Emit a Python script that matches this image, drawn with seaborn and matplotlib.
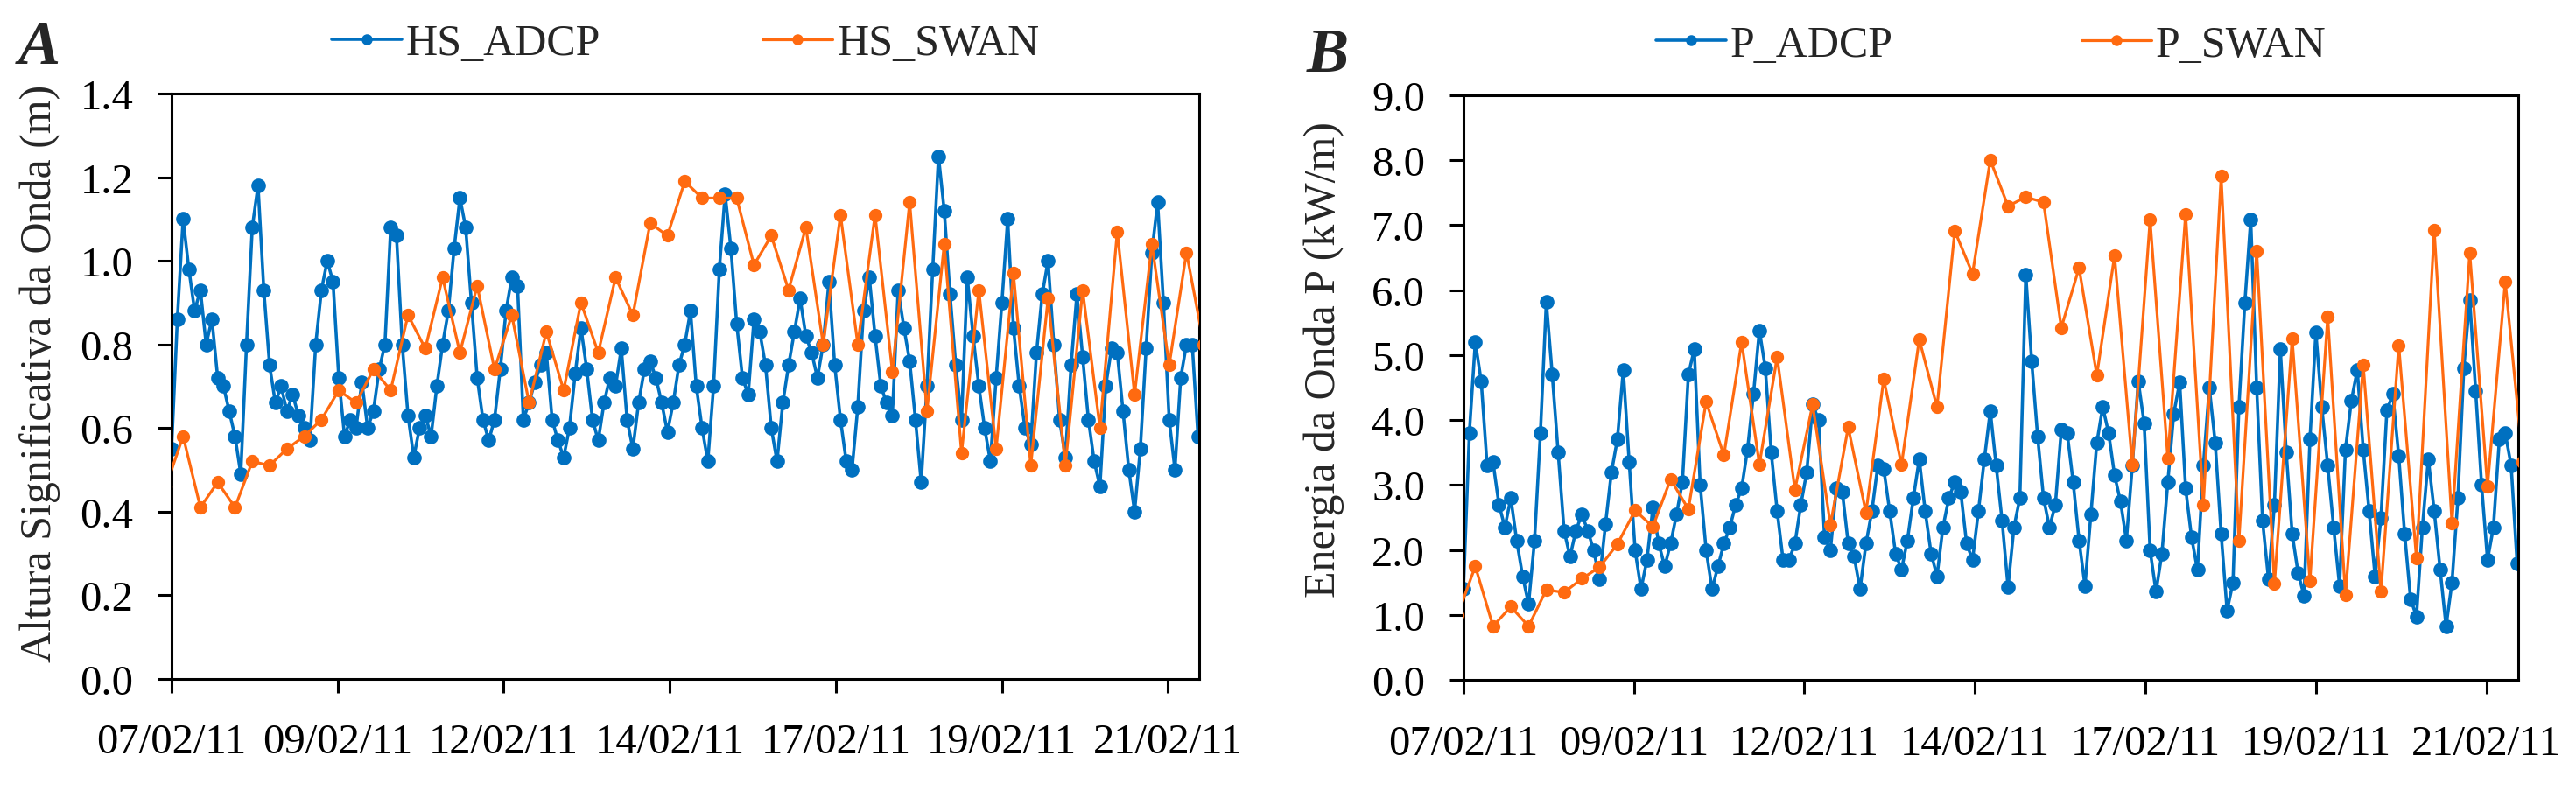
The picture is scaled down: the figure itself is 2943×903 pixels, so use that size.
import numpy as np
import pandas as pd
import matplotlib
matplotlib.use('Agg')  # no display
import matplotlib.pyplot as plt
import seaborn as sns

# --- data -----------------------------------------------------------------
# ADCP records, one value every 2 h from the start of the axis
hs_adcp = [
    0.55, 0.86, 1.10, 0.98, 0.88, 0.93, 0.80, 0.86, 0.72, 0.70,
    0.64, 0.58, 0.49, 0.80, 1.08, 1.18, 0.93, 0.75, 0.66, 0.70,
    0.64, 0.68, 0.63, 0.60, 0.57, 0.80, 0.93, 1.00, 0.95, 0.72,
    0.58, 0.62, 0.60, 0.71, 0.60, 0.64, 0.74, 0.80, 1.08, 1.06,
    0.80, 0.63, 0.53, 0.60, 0.63, 0.58, 0.70, 0.80, 0.88, 1.03,
    1.15, 1.08, 0.90, 0.72, 0.62, 0.57, 0.62, 0.74, 0.88, 0.96,
    0.94, 0.62, 0.66, 0.71, 0.75, 0.78, 0.62, 0.57, 0.53, 0.60,
    0.73, 0.84, 0.74, 0.62, 0.57, 0.66, 0.72, 0.70, 0.79, 0.62,
    0.55, 0.66, 0.74, 0.76, 0.72, 0.66, 0.59, 0.66, 0.75, 0.80,
    0.88, 0.70, 0.60, 0.52, 0.70, 0.98, 1.16, 1.03, 0.85, 0.72,
    0.68, 0.86, 0.83, 0.75, 0.60, 0.52, 0.66, 0.75, 0.83, 0.91,
    0.82, 0.78, 0.72, 0.80, 0.95, 0.75, 0.62, 0.52, 0.50, 0.65,
    0.88, 0.96, 0.82, 0.70, 0.66, 0.63, 0.93, 0.84, 0.76, 0.62,
    0.47, 0.70, 0.98, 1.25, 1.12, 0.92, 0.75, 0.62, 0.96, 0.82,
    0.70, 0.60, 0.52, 0.72, 0.90, 1.10, 0.84, 0.70, 0.60, 0.56,
    0.78, 0.92, 1.00, 0.80, 0.62, 0.53, 0.75, 0.92, 0.77, 0.62,
    0.52, 0.46, 0.70, 0.79, 0.78, 0.64, 0.50, 0.40, 0.55, 0.79,
    1.02, 1.14, 0.90, 0.62, 0.50, 0.72, 0.80, 0.80, 0.58,
]
p_adcp = [
    1.40, 3.80, 5.20, 4.60, 3.30, 3.35, 2.70, 2.35, 2.80, 2.14,
    1.60, 1.17, 2.14, 3.80, 5.82, 4.70, 3.50, 2.30, 1.90, 2.30,
    2.55, 2.30, 2.00, 1.55, 2.40, 3.20, 3.70, 4.77, 3.35, 2.00,
    1.40, 1.85, 2.65, 2.10, 1.75, 2.10, 2.55, 3.05, 4.70, 5.09,
    3.00, 2.00, 1.40, 1.75, 2.10, 2.35, 2.70, 2.95, 3.55, 4.40,
    5.38, 4.80, 3.50, 2.60, 1.85, 1.85, 2.10, 2.70, 3.20, 4.24,
    4.00, 2.20, 2.00, 2.95, 2.90, 2.10, 1.90, 1.40, 2.10, 2.60,
    3.30, 3.25, 2.60, 1.95, 1.70, 2.15, 2.80, 3.40, 2.60, 1.95,
    1.60, 2.35, 2.80, 3.05, 2.90, 2.10, 1.85, 2.60, 3.40, 4.14,
    3.30, 2.45, 1.43, 2.35, 2.80, 6.24, 4.90, 3.75, 2.80, 2.35,
    2.70, 3.85, 3.80, 3.05, 2.15, 1.45, 2.55, 3.65, 4.20, 3.80,
    3.15, 2.75, 2.15, 3.30, 4.60, 3.95, 2.00, 1.36, 1.95, 3.05,
    4.10, 4.58, 2.95, 2.20, 1.70, 3.30, 4.50, 3.65, 2.25, 1.07,
    1.50, 4.20, 5.80, 7.09, 4.50, 2.45, 1.55, 2.70, 5.09, 3.50,
    2.25, 1.65, 1.30, 3.70, 5.35, 4.20, 3.30, 2.35, 1.45, 3.55,
    4.30, 4.77, 3.55, 2.60, 1.60, 2.50, 4.15, 4.40, 3.45, 2.25,
    1.25, 0.98, 2.35, 3.40, 2.60, 1.70, 0.83, 1.50, 2.80, 4.80,
    5.85, 4.45, 3.00, 1.85, 2.35, 3.70, 3.80, 3.30, 1.80,
]

# SWAN model output, one value every 6 h
hs_swan = [
    0.46, 0.58, 0.41, 0.47, 0.41, 0.52, 0.51, 0.55, 0.58, 0.62,
    0.69, 0.66, 0.74, 0.69, 0.87, 0.79, 0.96, 0.78, 0.94, 0.74,
    0.87, 0.66, 0.83, 0.69, 0.90, 0.78, 0.96, 0.87, 1.09, 1.06,
    1.19, 1.15, 1.15, 1.15, 0.99, 1.06, 0.93, 1.08, 0.80, 1.11,
    0.80, 1.11, 0.735, 1.14, 0.64, 1.04, 0.54, 0.93, 0.55, 0.97,
    0.51, 0.91, 0.51, 0.93, 0.60, 1.07, 0.68, 1.04, 0.75, 1.02,
    0.80,
]
p_swan = [
    1.00, 1.75, 0.83, 1.13, 0.83, 1.39, 1.35, 1.56, 1.74, 2.09,
    2.61, 2.36, 3.09, 2.63, 4.28, 3.46, 5.20, 3.32, 4.97, 2.93,
    4.24, 2.39, 3.89, 2.58, 4.63, 3.31, 5.24, 4.20, 6.91, 6.25,
    8.00, 7.29, 7.43, 7.35, 5.42, 6.34, 4.69, 6.53, 3.31, 7.08,
    3.41, 7.17, 2.70, 7.75, 2.14, 6.60, 1.48, 5.25, 1.53, 5.59,
    1.31, 4.85, 1.36, 5.15, 1.87, 6.92, 2.41, 6.57, 2.98, 6.13,
    3.35,
]

# hours since the first axis tick
adcp_hours = np.arange(len(hs_adcp)) * 2
swan_hours = np.arange(len(hs_swan)) * 6 - 2

date_labels = ['07/02/11', '09/02/11', '12/02/11', '14/02/11',
               '17/02/11', '19/02/11', '21/02/11']
tick_step_hours = 57.6
x_end_hours = 356.4

BLUE = '#0070C0'
ORANGE = '#FF6A10'


def draw_series(ax, hours, values, color, name, size, width, z):
    """One line + marker series; marker size is forced on the Line2D."""
    df = pd.DataFrame({'hora': hours, 'valor': values})
    n_before = len(ax.lines)
    sns.lineplot(data=df, x='hora', y='valor', ax=ax, color=color,
                 marker='o', label=name, legend=False, zorder=z)
    for line in ax.lines[n_before:]:
        line.set_markersize(size)
        line.set_markeredgewidth(0)
        line.set_linewidth(width)


def draw_panel(ax, adcp, swan, names, ylabel, ymax, ystep, label_x, label_y,
               colspace):
    """Draw one ADCP vs SWAN comparison panel."""
    draw_series(ax, adcp_hours, adcp, BLUE, names[0], 12, 2.6, 2)
    draw_series(ax, swan_hours, swan, ORANGE, names[1], 11, 2.3, 3)

    ax.set_xlim(0, x_end_hours)
    ax.set_ylim(0, ymax)
    ax.set_xticks(np.arange(len(date_labels)) * tick_step_hours)
    ax.set_xticklabels(date_labels)
    yticks = np.arange(0, ymax + ystep / 2, ystep)
    ax.set_yticks(yticks)
    ax.set_yticklabels([f'{v:.1f}' for v in yticks])

    ax.set_xlabel('')
    ax.set_ylabel(ylabel, fontsize=36)
    ax.yaxis.set_label_coords(label_x, label_y)

    ax.tick_params(axis='both', direction='out', length=11.5, width=2.2,
                   labelsize=35, colors='black')
    ax.tick_params(axis='x', pad=25)
    ax.tick_params(axis='y', pad=20)
    for side in ['left', 'right', 'top', 'bottom']:
        ax.spines[side].set_visible(True)
        ax.spines[side].set_linewidth(2.2)
        ax.spines[side].set_color('black')
    ax.grid(False)

    handles, labels = ax.get_legend_handles_labels()
    leg = ax.legend(handles, labels, loc='center', bbox_to_anchor=(0.5, 1.085),
                    ncol=2, frameon=False, fontsize=36, handlelength=1.6,
                    handletextpad=0.1, columnspacing=colspace, borderaxespad=0)
    for line in leg.get_lines():
        line.set_markersize(9)


sns.set_style('ticks')
plt.rcParams['font.family'] = ['Liberation Serif', 'DejaVu Serif']

fig = plt.figure(figsize=(29.43, 9.04), dpi=100)
ax_a = fig.add_axes([0.0666, 0.1408, 0.3989, 0.7397])
ax_b = fig.add_axes([0.5681, 0.1389, 0.4095, 0.7399])

draw_panel(ax_a, hs_adcp, hs_swan, ['HS_ADCP', 'HS_SWAN'],
           'Altura Significativa da Onda (m)', 1.4, 0.2, -0.108, 0.523, 3.7)
draw_panel(ax_b, p_adcp, p_swan, ['P_ADCP', 'P_SWAN'],
           'Energia da Onda P (kW/m)', 9.0, 1.0, -0.113, 0.549, 4.3)

fig.text(21 / 2943, 1 - 23 / 904, 'A', ha='left', va='top', fontsize=52,
         fontweight='bold', fontstyle='italic')
fig.text(1493 / 2943, 1 - 32 / 904, 'B', ha='left', va='top', fontsize=52,
         fontweight='bold', fontstyle='italic')

fig.savefig('out.png', dpi=100)
plt.close(fig)
